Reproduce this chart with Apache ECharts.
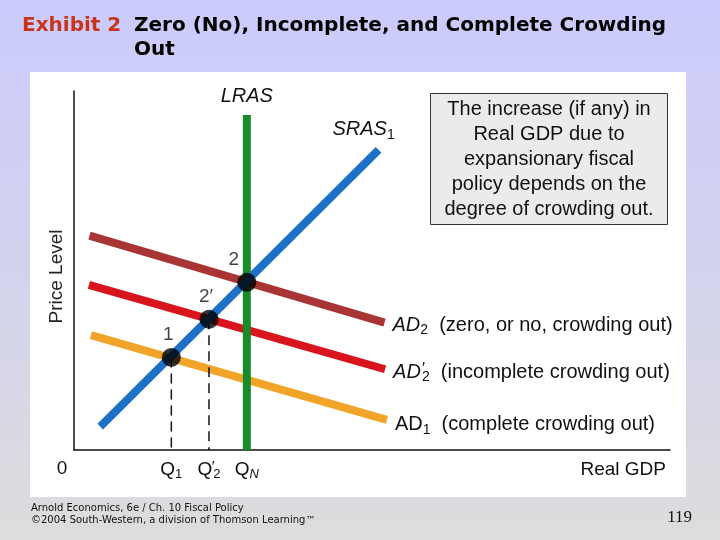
<!DOCTYPE html>
<html>
<head>
<meta charset="utf-8">
<script src="https://cdn.jsdelivr.net/npm/echarts@6/dist/echarts.min.js"></script>
<style>html,body{margin:0;padding:0;}#c{width:720px;height:540px;}</style>
</head>
<body>
<div id="c"></div>
<script>
// ---- data (abstract units: Real GDP 0-100, Price Level 0-100) ----
const lrasLine = [[29.0, 0], [29.0, 93.3]];
const srasLine = [[4.4, 6.5], [51.1, 83.6]];
const ad2Line = [[2.6, 59.7], [52.1, 35.5]];
const ad2pLine = [[2.5, 46.0], [52.2, 22.5]];
const ad1Line = [[2.85, 32.0], [52.5, 8.4]];
const eqPoints = [[16.33, 25.8], [22.65, 36.4], [29.0, 46.7]];
const eqNames = ['1', '2\u2032', '2'];
const tickValues = [0, 16.33, 22.65, 29.0];
const tickLabels = ['0', 'Q1', 'Q2\u2032', 'QN'];
const curveLabels = ['LRAS', 'SRAS1', 'AD2', 'AD2\u2032', 'AD1'];
const curveNotes = ['', '', '(zero, or no, crowding out)', '(incomplete crowding out)', '(complete crowding out)'];
const boxLines = ['The increase (if any) in', 'Real GDP due to', 'expansionary fiscal', 'policy depends on the', 'degree of crowding out.'];

const FONT = '"Liberation Sans", Arial, sans-serif';
const chart = echarts.init(document.getElementById('c'));

const richBase = {
  b: {fontSize: 19, fontFamily: FONT, color: '#111'},
  i: {fontSize: 19, fontFamily: FONT, fontStyle: 'italic', color: '#111'},
  n: {fontSize: 19, fontFamily: FONT, color: '#111'},
  s: {fontSize: 13, fontFamily: FONT, color: '#111', padding: [9, 0, 0, 0]},
  si: {fontSize: 13, fontFamily: FONT, fontStyle: 'italic', color: '#111', padding: [9, 0, 0, 0]},
  pr: {fontSize: 15, fontFamily: FONT, color: '#111', width: 0, align: 'left', padding: [0, 0, 6, 1]},
  z: {fontSize: 19, fontFamily: FONT, color: '#111', padding: [0, 24, 0, 0]}
};
const richCurve = Object.assign({}, richBase, {
  i: {fontSize: 20, fontFamily: FONT, fontStyle: 'italic', color: '#111'},
  n: {fontSize: 20, fontFamily: FONT, color: '#111'},
  s: {fontSize: 14, fontFamily: FONT, color: '#111', padding: [10, 0, 0, 0]},
  pr: {fontSize: 16, fontFamily: FONT, color: '#111', width: 0, align: 'left', padding: [0, 0, 6, 1]}
});

function tickRich(lbl) {
  if (lbl === '0') return '{z|0}';
  const sub = lbl.slice(1).replace('\u2032', '');
  const prime = lbl.indexOf('\u2032') >= 0 ? '{pr|\u2032}' : '';
  return '{b|' + lbl[0] + '}' + prime + (sub === 'N' ? '{si|N}' : '{s|' + sub + '}');
}
function curveRich(idx) {
  const lbl = curveLabels[idx];
  if (lbl === 'LRAS') return '{i|LRAS}';
  const m = lbl.match(/^([A-Z]+)(\d)(\u2032?)$/);
  const italicMain = lbl !== 'AD1';
  let s = '{' + (italicMain ? 'i' : 'n') + '|' + m[1] + '}';
  if (m[3]) s += '{pr|\u2032}';
  s += '{s|' + m[2] + '}';
  if (curveNotes[idx]) s += '{n|  ' + curveNotes[idx] + '}';
  return s;
}

function lineSeries(data, color, z, labelIdx, labelCfg) {
  return {
    type: 'line', data: data.map((p, k) => k === data.length - 1 ? {
      value: p,
      label: Object.assign({show: true, formatter: () => curveRich(labelIdx), rich: richCurve}, labelCfg)
    } : {value: p}),
    symbol: 'circle', symbolSize: 0, showSymbol: true,
    itemStyle: {color: 'rgba(0,0,0,0)'},
    lineStyle: {color: color, width: 8, cap: 'butt'},
    z: z, silent: true, animation: false
  };
}

function dashSeries(pt) {
  return {
    type: 'line', data: [pt, [pt[0], 0]], symbol: 'none',
    lineStyle: {color: '#111', width: 1.5, type: [10, 6]},
    z: 3, animation: false, silent: true
  };
}

const option = {
  backgroundColor: {
    type: 'linear', x: 0, y: 0, x2: 0, y2: 1,
    colorStops: [{offset: 0, color: '#cbcbfc'}, {offset: 0.5, color: '#d3d3ee'}, {offset: 1, color: '#dddddd'}]
  },
  animation: false,
  grid: {left: 74, right: 50, top: 91, bottom: 90, containLabel: false},
  xAxis: [{
    type: 'value', min: 0, max: 100,
    axisLine: {show: true, onZero: false, lineStyle: {color: '#111', width: 1.5}},
    axisTick: {show: false}, splitLine: {show: false},
    axisLabel: {
      show: true, customValues: tickValues, margin: 9,
      formatter: (v) => { const i = tickValues.findIndex(t => Math.abs(t - v) < 0.01); return i < 0 ? '' : tickRich(tickLabels[i]); },
      rich: richBase
    }
  }],
  yAxis: [{
    type: 'value', min: 0, max: 100,
    axisLine: {show: true, onZero: false, lineStyle: {color: '#111', width: 1.5}},
    axisTick: {show: false}, splitLine: {show: false}, axisLabel: {show: false},
    name: 'Price Level', nameLocation: 'middle', nameGap: 8,
    nameTextStyle: {fontSize: 19, fontFamily: FONT, color: '#222', padding: [0, 12, 0, 0]}
  }],
  graphic: [
    {type: 'rect', shape: {x: 30, y: 72, width: 656, height: 425}, style: {fill: '#ffffff'}, z: -10, silent: true},
    {type: 'rect', shape: {x: 430.5, y: 93.5, width: 237, height: 131}, style: {fill: '#ebebeb', stroke: '#333', lineWidth: 1}, z: 10},
    {type: 'text', x: 549, y: 159, z: 11, style: {text: boxLines.join('\n'), font: '20px ' + FONT, fill: '#111', align: 'center', verticalAlign: 'middle', lineHeight: 25}},
    {type: 'text', x: 666, y: 470, z: 11, style: {text: 'Real GDP', font: '19px ' + FONT, fill: '#111', align: 'right', verticalAlign: 'middle'}},
    {type: 'text', x: 22, y: 26, style: {text: 'Exhibit 2', font: 'bold 20px "DejaVu Sans"', fill: '#c8341a', verticalAlign: 'middle'}},
    {type: 'text', x: 134, y: 14, style: {text: 'Zero (No), Incomplete, and Complete Crowding\nOut', font: 'bold 20px "DejaVu Sans"', fill: '#000', verticalAlign: 'top', lineHeight: 24}},
    {type: 'text', x: 31, y: 514, style: {text: 'Arnold Economics, 6e / Ch. 10 Fiscal Policy\n\u00a92004 South-Western, a division of Thomson Learning\u2122', font: '10px "DejaVu Sans"', fill: '#111', verticalAlign: 'middle', lineHeight: 12}},
    {type: 'text', x: 692, y: 518, style: {text: '119', font: '17px "Liberation Serif"', fill: '#111', align: 'right', verticalAlign: 'middle'}}
  ],
  series: [
    lineSeries(ad2Line, '#a83434', 2, 2, {position: 'right', distance: 8, offset: [0, 3]}),
    lineSeries(ad2pLine, '#d8141c', 2, 3, {position: 'right', distance: 8, offset: [0, 3]}),
    lineSeries(ad1Line, '#f2a428', 2, 4, {position: 'right', distance: 8, offset: [0, 5]}),
    lineSeries(lrasLine, '#178a2a', 3, 0, {position: 'top', distance: 9}),
    lineSeries(srasLine, '#1c70c6', 4, 1, {position: 'top', distance: 8, offset: [-15, 0]}),
    dashSeries(eqPoints[0]),
    dashSeries(eqPoints[1]),
    {
      type: 'scatter', z: 6, animation: false, silent: true,
      symbolSize: 19, itemStyle: {color: '#000'},
      data: eqPoints.map((p, k) => ({
        value: p,
        label: {show: true, position: 'top', distance: 4, formatter: eqNames[k],
          offset: k === 2 ? [-13, 0] : [-3, 0],
          fontSize: 19, fontFamily: FONT, color: '#111'}
      }))
    }
  ]
};
chart.setOption(option);
</script>
</body>
</html>
